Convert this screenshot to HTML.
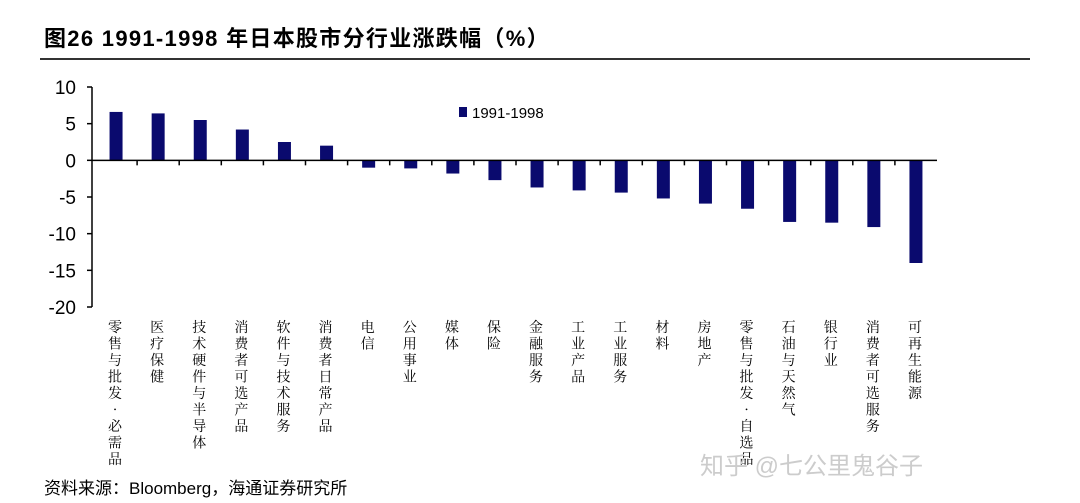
<!DOCTYPE html>
<html><head><meta charset="utf-8"><style>
body{margin:0;width:1080px;height:503px;background:#fff;overflow:hidden;font-family:"Liberation Sans","Noto Sans CJK SC",sans-serif}
#title{position:absolute;left:44px;top:21px;font-size:22px;font-weight:bold;color:#000;letter-spacing:1.3px}
#rule{position:absolute;left:40px;top:58px;width:990px;height:2px;background:#333}
#src{position:absolute;left:44px;top:474px;font-size:17px;color:#000}
#wm{position:absolute;left:700px;top:446px;font-size:24px;color:#ccc}
</style></head><body>
<div id="title">图26 1991-1998 年日本股市分行业涨跌幅（%）</div>
<div id="rule"></div>
<svg id="chart" width="1080" height="503" style="position:absolute;left:0;top:0"></svg>
<div id="src">资料来源：Bloomberg，海通证券研究所</div>
<div id="wm">知乎 @七公里鬼谷子</div>
<script>
const categories=["零售与批发-必需品","医疗保健","技术硬件与半导体","消费者可选产品","软件与技术服务","消费者日常产品","电信","公用事业","媒体","保险","金融服务","工业产品","工业服务","材料","房地产","零售与批发-自选品","石油与天然气","银行业","消费者可选服务","可再生能源"];
const values=[6.6,6.4,5.5,4.2,2.5,2.0,-1.0,-1.1,-1.8,-2.7,-3.7,-4.1,-4.4,-5.2,-5.9,-6.6,-8.4,-8.5,-9.1,-14.0];
const ticks=[10,5,0,-5,-10,-15,-20];
const seriesName="1991-1998";
const NS="http://www.w3.org/2000/svg";
const svg=document.getElementById('chart');
const x0=95,x1=937,yTop=87,yBot=307,vMax=10,vMin=-20;
const y=v=>yTop+(vMax-v)/(vMax-vMin)*(yBot-yTop);
const bw=(x1-x0)/categories.length;
const xc=i=>x0+bw*(i+0.5);
function mk(t,a){const e=document.createElementNS(NS,t);for(const k in a)e.setAttribute(k,a[k]);svg.appendChild(e);return e;}
let ax=mk('line',{x1:92,x2:92,y1:yTop,y2:yBot,stroke:'#000','stroke-width':1.5});


ticks.forEach(t=>{
 let l=mk('line',{x1:87,x2:92,y1:y(t),y2:y(t),stroke:'#000','stroke-width':1.5});
 
 
 let tx=mk('text',{x:76,y:y(t)+7,'text-anchor':'end','font-size':19,fill:'#000','font-family':'Liberation Sans, sans-serif'});
 tx.textContent=t;
 
 
});
values.forEach((v,i)=>{
 let r=mk('rect',{x:xc(i)-6.5,width:13,y:Math.min(y(v),y(0)),height:Math.abs(y(v)-y(0)),fill:'#0a0a6e'});
 
 
});
let za=mk('line',{x1:92,x2:x1,y1:y(0),y2:y(0),stroke:'#000','stroke-width':1.5});


categories.forEach((c,i)=>{
 if(i>0){let t=mk('line',{x1:x0+bw*i,x2:x0+bw*i,y1:y(0),y2:y(0)+5,stroke:'#000','stroke-width':1.5});
 
 }
 let g=mk('text',{x:xc(i)-1,y:332,'text-anchor':'middle','font-size':14,fill:'#000','font-family':'Noto Serif CJK SC, serif'});
 
 
 [...c].forEach((ch,k)=>{let s=document.createElementNS(NS,'tspan');s.setAttribute('x',xc(i)-1);s.setAttribute('dy',k?16.5:0);s.textContent=ch==='-'?'·':ch;g.appendChild(s);});
});
let lr=mk('rect',{x:459,y:107,width:8,height:10,fill:'#0a0a6e'});


let lt=mk('text',{x:472,y:118,'font-size':15,fill:'#000','font-family':'Liberation Sans, sans-serif'});
lt.textContent=seriesName;


</script>
</body></html>
